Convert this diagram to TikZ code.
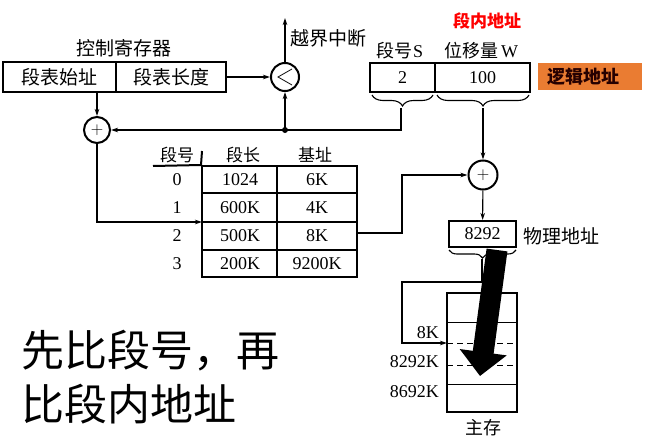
\documentclass[tikz,border=0pt]{standalone}
\usepackage{fontspec}
\setmainfont{Liberation Serif}
\newfontfamily\cjk{Noto Sans CJK SC}
\usetikzlibrary{arrows.meta,decorations.pathreplacing}
\definecolor{orangebox}{RGB}{234,124,50}
\begin{document}
\begin{tikzpicture}[x=1pt,y=-1pt,
  box/.style={draw,line width=2.2pt,inner sep=0pt,font=\fontsize{18}{20}\selectfont},
  cjklab/.style={inner sep=0pt,font=\cjk\fontsize{18}{20}\selectfont},
  numlab/.style={inner sep=0pt,font=\fontsize{18}{20}\selectfont},
  ring/.style={draw,circle,line width=2pt,inner sep=0pt},
  conn/.style={line width=1.1pt,-{Stealth[length=7pt,width=4.5pt]}},
  plain/.style={line width=1.1pt},
  brc/.style={line width=1.1pt,decorate,decoration={brace,amplitude=11pt}}]
\useasboundingbox (0,0) rectangle (661,447);
% control register
\node[cjklab,font=\cjk\fontsize{19}{20}\selectfont] (ctl) at (124,48) {控制寄存器};
\node[box,minimum width=113pt,minimum height=30pt,font=\cjk\fontsize{19}{20}\selectfont] (r1) at (59.5,77) {段表始址};
\node[box,minimum width=110pt,minimum height=30pt,font=\cjk\fontsize{19}{20}\selectfont] (r2) at (171,77) {段表长度};
% compare
\node[ring,minimum size=28pt] (cmp) at (285,77) {};
\draw[line width=0.8pt] ([shift={(7,-8)}]cmp.center) -- ([shift={(-7,0)}]cmp.center) -- ([shift={(7,8)}]cmp.center);
\coordinate (top) at (285,18);
\node[cjklab,anchor=west,font=\cjk\fontsize{19}{20}\selectfont] (oob) at (290,38) {越界中断};
% plus circles
\node[ring,minimum size=26pt] (p1) at (97,130) {\fontsize{18}{18}\selectfont$+$};
\node[ring,minimum size=29pt] (p2) at (483,175) {\fontsize{18}{18}\selectfont$+$};
% logical address
\node[box,minimum width=65pt,minimum height=29pt] (la1) at (402.5,77.5) {2};
\node[box,minimum width=95pt,minimum height=29pt] (la2) at (482.5,77.5) {100};
\node[inner sep=0pt] (ls) at (400,51) {{\cjk\fontsize{18}{20}\selectfont 段号}\fontsize{18}{20}\selectfont S};
\node[inner sep=0pt] (lw) at (481,51) {{\cjk\fontsize{18}{20}\selectfont 位移量}\fontsize{18}{20}\selectfont\,W};
\node[cjklab,text=red,font=\cjk\bfseries\fontsize{17}{20}\selectfont] (inner) at (487,21) {段内地址};
\node[fill=orangebox,minimum width=104pt,minimum height=27pt,inner sep=0pt] (orb) at (590,76.5) {};
\node[cjklab,anchor=west,text=black!85!red,font=\cjk\bfseries\fontsize{18}{20}\selectfont] (orl) at (547,76.5) {逻辑地址};
% braces
\draw[brc] (433,95) -- (372,95);
\draw[brc] (529,95) -- (437,95);
\coordinate (b1tip) at (401,108);
\coordinate (b2tip) at (483,108);
% table
\node[inner sep=0pt,draw,line width=2pt,minimum width=155pt,minimum height=111pt] (tbl) at (279.5,221.5) {};
\draw[line width=2pt] (153,166) -- (tbl.north west);
\draw[line width=2pt] (tbl.north west) -- (202,151);
\draw[line width=1.3pt] (277,166) -- (277,277);
\draw[line width=1.3pt] (202,193) -- (357,193);
\draw[line width=1.3pt] (202,222) -- (357,222);
\draw[line width=1.3pt] (202,250) -- (357,250);
\node[cjklab,font=\cjk\fontsize{17}{20}\selectfont] (h1) at (177,155) {段号};
\node[cjklab,font=\cjk\fontsize{17}{20}\selectfont] (h2) at (243,155) {段长};
\node[cjklab,font=\cjk\fontsize{17}{20}\selectfont] (h3) at (315,155) {基址};
\node[numlab] (n0) at (177,180) {0};
\node[numlab] (n1) at (177,208) {1};
\node[numlab] (n2) at (177,236) {2};
\node[numlab] (n3) at (177,264) {3};
\node[numlab] (l0) at (240,180) {1024};
\node[numlab] (l1) at (240,208) {600K};
\node[numlab] (l2) at (240,236) {500K};
\node[numlab] (l3) at (240,264) {200K};
\node[numlab] (a0) at (317,180) {6K};
\node[numlab] (a1) at (317,208) {4K};
\node[numlab] (a2) at (317,236) {8K};
\node[numlab] (a3) at (317,264) {9200K};
\coordinate (tin) at (202,222);
\coordinate (tout) at (357,233);
% physical address
\node[box,minimum width=67pt,minimum height=26pt] (pa) at (482.5,234) {8292};
\node[cjklab,anchor=west,font=\cjk\fontsize{19}{20}\selectfont] (pal) at (523,236) {物理地址};
\draw[brc,decoration={brace,amplitude=8pt}] (516,250) -- (449,250);
\coordinate (b3tip) at (482,259);
% memory
\node[draw,line width=2.2pt,minimum width=70pt,minimum height=119pt,inner sep=0pt] (mem) at (482,352.5) {};
\draw[line width=1pt] (447,322) -- (517,322);
\draw[line width=1pt,dash pattern=on 6pt off 4pt] (447,343) -- (517,343);
\draw[line width=1pt,dash pattern=on 6pt off 4pt] (447,365) -- (517,365);
\draw[line width=1pt] (447,384) -- (517,384);
\node[numlab,anchor=east] (m1) at (439,333) {8K};
\node[numlab,anchor=east] (m2) at (439,362) {8292K};
\node[numlab,anchor=east] (m3) at (439,392) {8692K};
\node[cjklab] (ms) at (483,428) {主存};
\coordinate (min) at (447,343);
% connectors
\draw[conn] (r2) -- (cmp);
\draw[conn] (cmp) -- (top);
\draw[conn] (r1.south -| p1) -- (p1);
\draw[plain] (b1tip) |- (285,130);
\draw[conn] (285,130) -- (p1);
\draw[conn] (285,130) -- (cmp);
\fill (285,130) circle (3pt);
\draw[conn] (p1) |- (tin);
\draw[conn] (tout) -| (402,175) -- (p2);
\draw[conn] (b2tip) -- (p2);
\draw[conn] (p2) -- (pa);
\draw[conn] (b3tip) |- (402,282) |- (min);
% big arrow
\draw[line width=21pt,-{Triangle[length=24pt,width=46pt]}] (497,250) -- (480,376);
% note text
\node[anchor=west,inner sep=0pt,font=\cjk\fontsize{43}{50}\selectfont] (t1) at (21,351) {先比段号，再};
\node[anchor=west,inner sep=0pt,font=\cjk\fontsize{43}{50}\selectfont] (t2) at (21,404) {比段内地址};
\end{tikzpicture}
\end{document}
